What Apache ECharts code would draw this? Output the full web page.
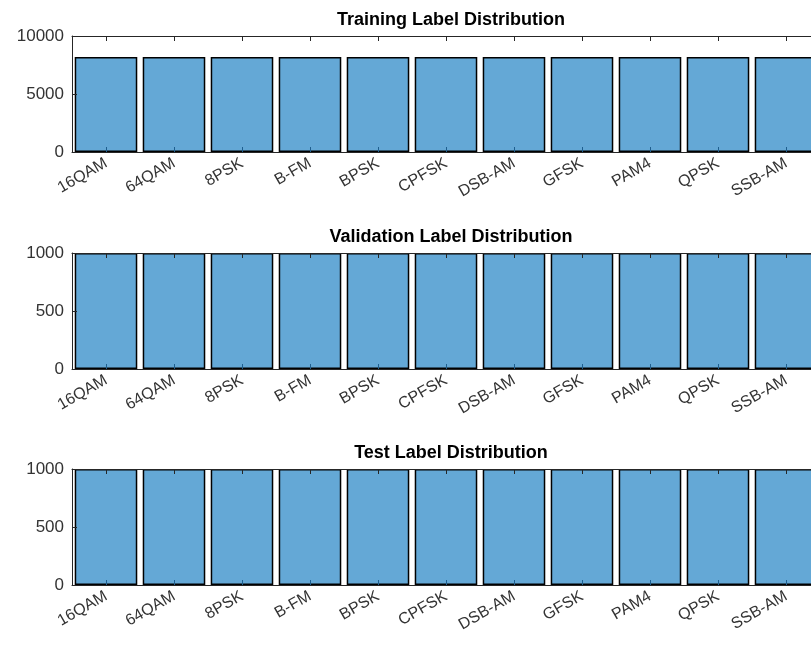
<!DOCTYPE html>
<html>
<head>
<meta charset="utf-8">
<title>Label Distribution</title>
<script src="https://cdn.jsdelivr.net/npm/echarts@6/dist/echarts.min.js"></script>
<style>
  html, body { margin: 0; padding: 0; background: #fff; overflow: hidden; }
  /* 比窗口宽一点，右边被裁掉，和原图一样 */
  #chart { width: 820px; height: 645px; }
</style>
</head>
<body>
<div id="chart"></div>
<script>
// 调制类别
const categories = ["16QAM", "64QAM", "8PSK", "B-FM", "BPSK", "CPFSK", "DSB-AM", "GFSK", "PAM4", "QPSK", "SSB-AM"];
const trainCounts = [8190, 8190, 8190, 8190, 8190, 8190, 8190, 8190, 8190, 8190, 8190];
const valCounts = [1000, 1000, 1000, 1000, 1000, 1000, 1000, 1000, 1000, 1000, 1000];
const testCounts = [1000, 1000, 1000, 1000, 1000, 1000, 1000, 1000, 1000, 1000, 1000];
const titles = ["Training Label Distribution", "Validation Label Distribution", "Test Label Distribution"];
const yMax = [10000, 1000, 1000];
const yStep = [5000, 500, 500];

const axisColor = "#262626";
const font = "Liberation Sans, Arial, sans-serif";
const tops = [36, 253, 469];
const plotH = 116;

let chart = echarts.init(document.getElementById("chart"));
let seriesData = [trainCounts, valCounts, testCounts];

let option = {
  animation: false,
  title: titles.map((t, i) => ({
    text: t,
    left: 446,
    textAlign: "center",
    top: tops[i] - 30,
    textStyle: { fontFamily: font, fontSize: 18, fontWeight: "bold", color: "#000" },
  })),
  grid: tops.map((t) => ({ left: 72, right: 0, top: t, height: plotH })),
  xAxis: [],
  yAxis: [],
  series: [],
};

for (let i = 0; i < 3; i++) {
  // 底部坐标轴
  option.xAxis.push({
    type: "category",
    gridIndex: i,
    z: 5,
    data: categories,
    axisLine: { lineStyle: { color: axisColor, width: 1 } },
    axisTick: { show: true, interval: 0, inside: true, alignWithLabel: true, length: 5, lineStyle: { color: "#1f5f8f", width: 1 } },
    axisLabel: { rotate: 30, margin: 10, fontSize: 16, fontFamily: font, color: "#333", interval: 0 },
  });
  // 顶部框线和刻度
  option.xAxis.push({
    type: "category",
    gridIndex: i,
    z: 5,
    position: "top",
    data: categories,
    axisLine: { lineStyle: { color: axisColor, width: 1 } },
    axisTick: { show: true, interval: 0, inside: true, alignWithLabel: true, length: 5, lineStyle: { color: axisColor, width: 1 } },
    axisLabel: { show: false, interval: 0 },
  });
  option.yAxis.push({
    type: "value",
    gridIndex: i,
    z: 5,
    min: 0,
    max: yMax[i],
    interval: yStep[i],
    splitLine: { show: false },
    axisLine: { show: true, lineStyle: { color: axisColor, width: 1 } },
    axisTick: { show: true, inside: true, length: 5, lineStyle: { color: axisColor } },
    axisLabel: { fontSize: 17, fontFamily: font, color: "#333", margin: 8, formatter: (v) => String(v) },
  });
  option.series.push({
    type: "bar",
    xAxisIndex: i * 2,
    yAxisIndex: i,
    data: seriesData[i],
    barWidth: "92%",
    itemStyle: { color: "#64a8d6", borderColor: "#000", borderWidth: 1.5 },
  });
}

chart.setOption(option);
</script>
</body>
</html>
